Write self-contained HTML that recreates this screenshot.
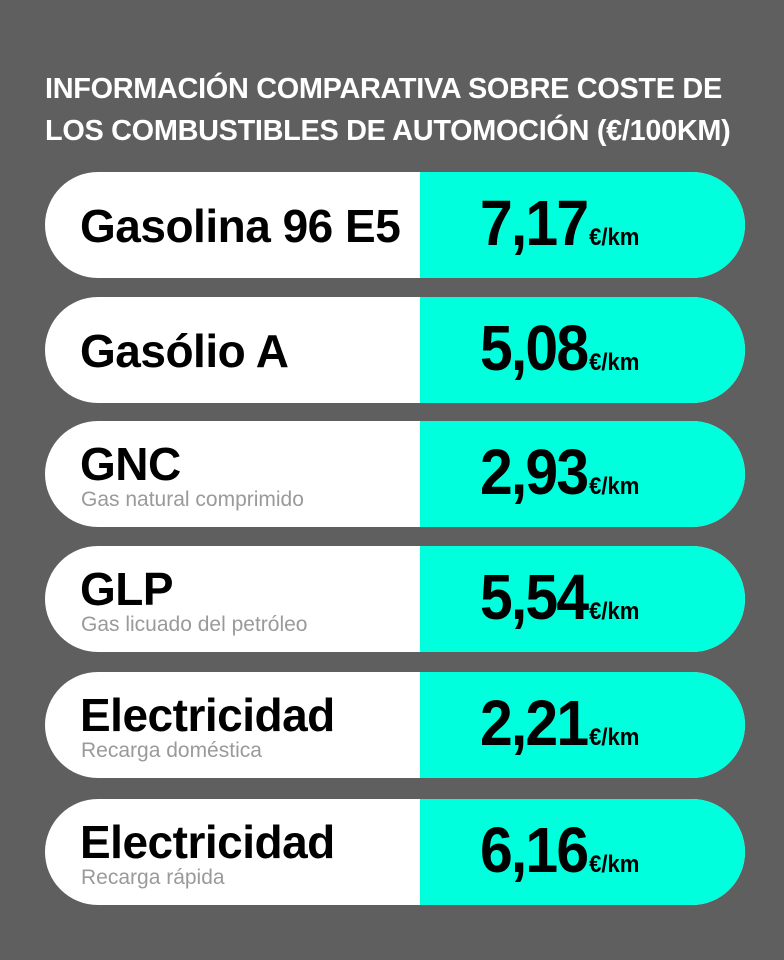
<!DOCTYPE html>
<html><head><meta charset="utf-8"><style>
body{margin:0;width:784px;height:960px;background:#5f5f5f;font-family:"Liberation Sans",sans-serif;overflow:hidden;position:relative}
.title{position:absolute;left:45px;top:68px;color:#fff;font-weight:bold;font-size:29px;line-height:42px;letter-spacing:-0.3px;transform:scaleX(0.995);transform-origin:left top;white-space:nowrap}
.row{position:absolute;left:45px;width:700px;height:106px;border-radius:53px;overflow:hidden;background:#fff}
.right{position:absolute;left:375px;top:0;width:325px;height:106px;background:#00ffdd}
.name{position:absolute;left:35px;font-weight:bold;font-size:46px;color:#000;letter-spacing:-0.5px;transform:scaleX(1.0);transform-origin:left top;white-space:nowrap;line-height:1}
.sub{position:absolute;left:36px;top:67px;font-size:21px;color:#9a9a9a;white-space:nowrap}
.val{position:absolute;left:435px;top:14px;white-space:nowrap;color:#000;font-weight:bold;transform:scaleX(0.92);transform-origin:left top}
.num{font-size:64px;letter-spacing:-2px}
.unit{font-size:24px;font-weight:bold;margin-left:2px}
</style></head><body>
<div class="title">INFORMACIÓN COMPARATIVA SOBRE COSTE DE<br>LOS COMBUSTIBLES DE AUTOMOCIÓN (€/100KM)</div>
<div id="rows"></div>
<script>
const names=["Gasolina 96 E5","Gasólio A","GNC","GLP","Electricidad","Electricidad"];
const subs=["","","Gas natural comprimido","Gas licuado del petróleo","Recarga doméstica","Recarga rápida"];
const values=[7.17,5.08,2.93,5.54,2.21,6.16];
const tops=[172,297,421,546,672,799];
const c=document.getElementById('rows');
names.forEach((n,i)=>{
 const r=document.createElement('div');r.className='row';r.style.top=tops[i]+'px';
 
 
 const rt=document.createElement('div');rt.className='right';
 
 
 r.appendChild(rt);
 const nm=document.createElement('div');nm.className='name';nm.textContent=n;
 nm.style.top=(subs[i]?20:31)+'px';
 
 
 r.appendChild(nm);
 if(subs[i]){const s=document.createElement('div');s.className='sub';s.textContent=subs[i];
 
 
 r.appendChild(s);}
 const v=document.createElement('div');v.className='val';
 v.innerHTML='<span class="num">'+values[i].toFixed(2).replace('.',',')+'</span><span class="unit">€/km</span>';
 
 
 r.appendChild(v);
 c.appendChild(r);
});
</script>
</body></html>
